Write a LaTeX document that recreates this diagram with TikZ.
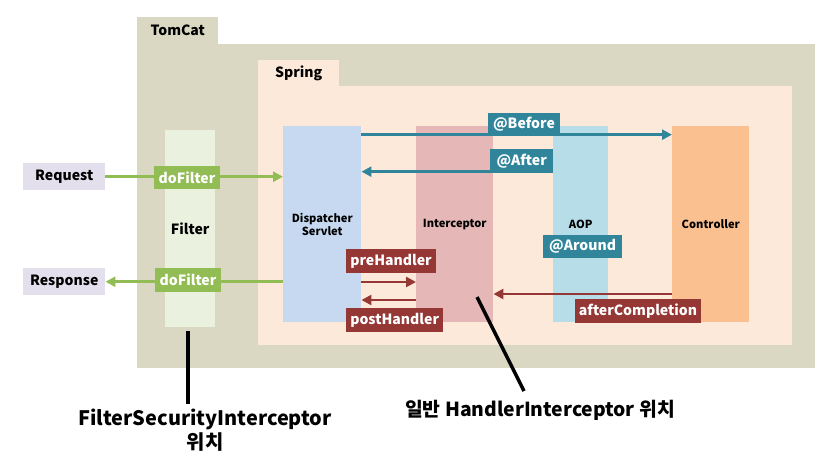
\documentclass[tikz,border=0pt]{standalone}
\usepackage{fontspec}
\setmainfont{Noto Sans CJK KR}
\usetikzlibrary{arrows.meta}
\definecolor{tomcatfond}{RGB}{218,216,194}
\definecolor{springfond}{RGB}{252,233,218}
\definecolor{filtrefond}{RGB}{234,241,222}
\definecolor{entreefond}{RGB}{228,223,236}
\definecolor{vert}{RGB}{146,188,84}
\definecolor{dispfond}{RGB}{198,217,240}
\definecolor{interfond}{RGB}{229,184,183}
\definecolor{aopfond}{RGB}{183,221,232}
\definecolor{ctrlfond}{RGB}{250,192,144}
\definecolor{bleu}{RGB}{49,133,155}
\definecolor{rouge}{RGB}{149,55,53}
\tikzstyle{fond} = [rectangle, inner sep=0pt, anchor=north west]
\tikzstyle{onglet} = [fond, minimum height=0.8cm, minimum width=2.43cm, font=\fontsize{12}{14}\selectfont\bfseries]
\tikzstyle{colonne} = [fond, minimum height=5.88cm, align=center, font=\fontsize{9.5}{11.5}\selectfont\bfseries]
\tikzstyle{entree} = [fond, fill=entreefond, minimum width=2.46cm, minimum height=0.81cm, font=\fontsize{12}{14}\selectfont\bfseries]
\tikzstyle{etiquette} = [rectangle, inner sep=0pt, minimum height=0.7cm, text=white, font=\fontsize{12}{14}\selectfont\bfseries]
\tikzstyle{fleche} = [line width=2.5pt, -{Triangle[length=8.5pt, width=8.5pt]}]
\tikzstyle{pointeur} = [line width=3pt, black]

\begin{document}
\begin{tikzpicture}
    \useasboundingbox (0,0) rectangle (24.72,-13.98);

    % conteneurs
    \node [onglet, fill=tomcatfond] (tomcattab) at (4.11,-0.51) {TomCat};
    \node [fond, fill=tomcatfond, minimum width=20.34cm, minimum height=9.72cm] (tomcat) at (4.11,-1.32) {};
    \node [onglet, fill=springfond] (springtab) at (7.74,-1.80) {Spring};
    \node [fond, fill=springfond, minimum width=16.02cm, minimum height=7.77cm] (spring) at (7.74,-2.58) {};

    % colonnes
    \node [fond, fill=filtrefond, minimum width=1.5cm, minimum height=5.91cm, font=\fontsize{12}{14}\selectfont\bfseries] (filter) at (4.95,-3.90) {Filter};
    \node [colonne, fill=dispfond, minimum width=2.34cm] (dispatcher) at (8.49,-3.78) {Dispatcher\\Servlet};
    \node [colonne, fill=interfond, minimum width=2.31cm] (interceptor) at (12.48,-3.78) {Interceptor};
    \node [colonne, fill=aopfond, minimum width=1.65cm] (aop) at (16.59,-3.78) {AOP};
    \node [colonne, fill=ctrlfond, minimum width=2.31cm] (controller) at (20.16,-3.78) {Controller};

    \node [entree] (request) at (0.69,-4.89) {Request};
    \node [entree] (response) at (0.69,-8.04) {Response};

    % niveaux des fleches
    \coordinate (niveaubefore) at (0,-4.04);
    \coordinate (niveauafter) at (0,-5.15);
    \coordinate (niveaupre) at (0,-8.46);
    \coordinate (niveaucompletion) at (0,-8.82);
    \coordinate (niveaupost) at (0,-9.00);

    \draw [fleche, vert] (request.east) -- (request.east -| dispatcher.west);
    \draw [fleche, vert] (response.east -| dispatcher.west) -- (response.east);

    \draw [fleche, bleu] (niveaubefore -| dispatcher.east) -- (niveaubefore -| controller.west);
    \draw [fleche, bleu] (niveauafter -| aop.west) -- (niveauafter -| dispatcher.east);

    \draw [fleche, rouge] (niveaupre -| dispatcher.east) -- (niveaupre -| interceptor.west);
    \draw [fleche, rouge] (niveaupost -| interceptor.west) -- (niveaupost -| dispatcher.east);
    \draw [fleche, rouge] (niveaucompletion -| controller.west) -- (niveaucompletion -| interceptor.east);

    % etiquettes
    \node [etiquette, fill=vert, minimum width=1.98cm] (dofilterin) at (5.61,-5.33) {doFilter};
    \node [etiquette, fill=vert, minimum width=1.98cm] (dofilterout) at (5.64,-8.40) {doFilter};
    \node [etiquette, fill=bleu, minimum width=2.16cm, minimum height=0.66cm] (before) at (15.72,-3.72) {@Before};
    \node [etiquette, fill=bleu, minimum width=1.89cm] (after) at (15.65,-4.83) {@After};
    \node [etiquette, fill=bleu, minimum width=2.37cm] (around) at (17.48,-7.40) {@Around};
    \node [etiquette, fill=rouge, minimum width=2.70cm] (prehandler) at (11.73,-7.83) {preHandler};
    \node [etiquette, fill=rouge, minimum width=2.91cm] (posthandler) at (11.84,-9.60) {postHandler};
    \node [etiquette, fill=rouge, minimum width=3.78cm] (aftercompletion) at (19.14,-9.33) {afterCompletion};

    % positions
    \node [align=center, font=\fontsize{17}{21}\selectfont\bfseries] (fsilabel) at (6.15,-12.90) {FilterSecurityInterceptor\\위치};
    \node [font=\fontsize{16.5}{19}\selectfont\bfseries] (hilabel) at (16.2,-12.3) {일반 HandlerInterceptor 위치};
    \coordinate (fsihaut) at (5.64,-9.93);
    \coordinate (hihaut) at (14.31,-8.91);
    \coordinate (hibas) at (15.72,-11.73);
    \draw [pointeur] (fsihaut) -- (fsihaut |- fsilabel.north);
    \draw [pointeur] (hihaut) -- (hibas);
\end{tikzpicture}
\end{document}
